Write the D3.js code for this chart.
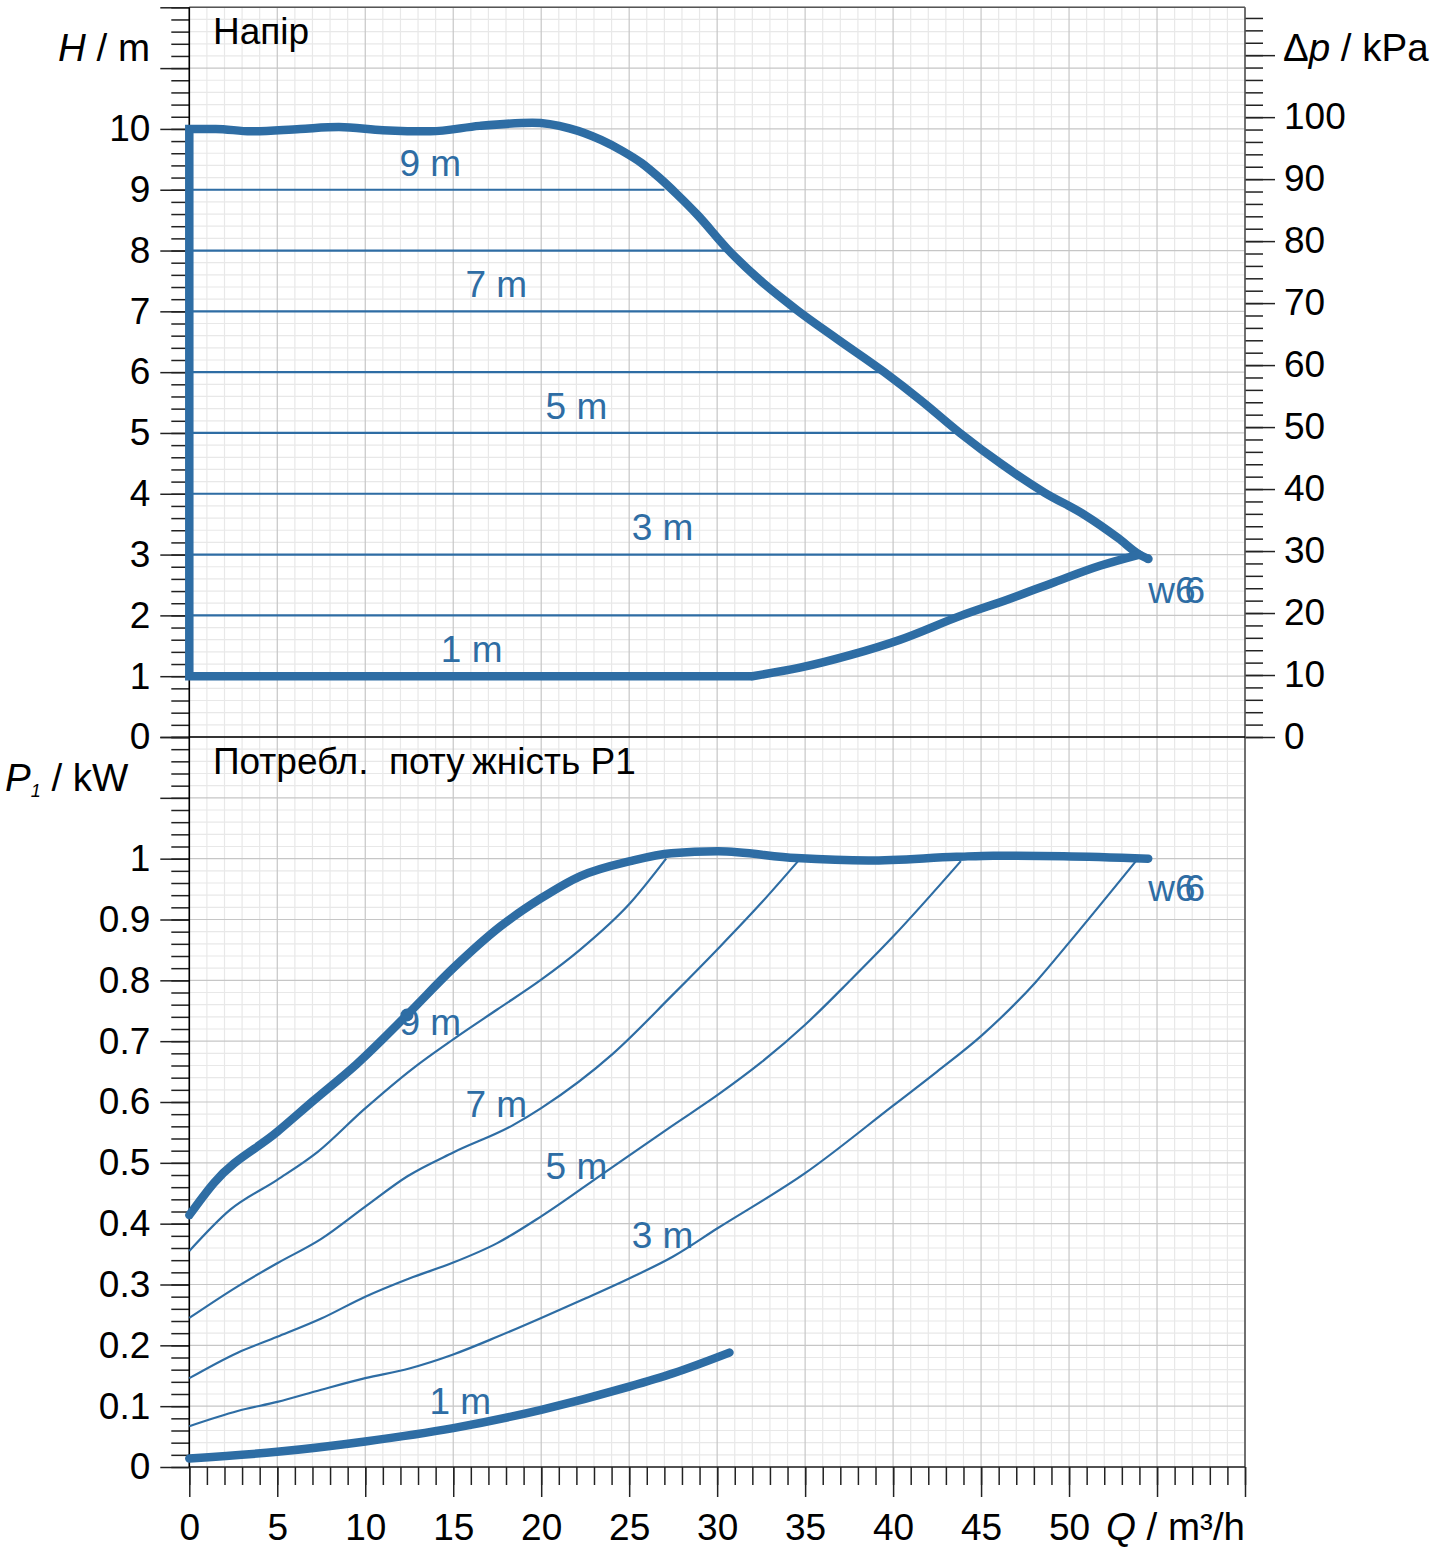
<!DOCTYPE html>
<html><head><meta charset="utf-8">
<script src="https://cdn.jsdelivr.net/npm/d3@7"></script>
<style>
html,body{margin:0;padding:0;background:#fff;}
svg{display:block;font-family:"Liberation Sans",Arial,Helvetica,sans-serif;}
</style></head><body>
<svg id="c" width="1437" height="1553"></svg>
<script>
// ---------- data ----------
const qMajorTicks = [0,5,10,15,20,25,30,35,40,45,50,55,60];
const qTickLabels = [0,5,10,15,20,25,30,35,40,45,50];
const hMajorTicks = [0,1,2,3,4,5,6,7,8,9,10,11,12];
const hTickLabels = [0,1,2,3,4,5,6,7,8,9,10];
const pMajorTicks = [0,0.1,0.2,0.3,0.4,0.5,0.6,0.7,0.8,0.9,1.0,1.1,1.2];
const pTickLabels = [0,0.1,0.2,0.3,0.4,0.5,0.6,0.7,0.8,0.9,1];
const kpaMajorTicks = [0,10,20,30,40,50,60,70,80,90,100,110];
const kpaTickLabels = [0,10,20,30,40,50,60,70,80,90,100];

// constant-head lines (m) and the flow where each meets the pump curve
const headLevels    = [2, 3, 4, 5, 6, 7, 8, 9];
const headLevelEndQ = [43.9, 53.6, 48.6, 43.8, 39.5, 34.5, 30.6, 27.0];

// H(Q) max curve [Q, H]
const headMax = [[0,10.0],[1.5,10.0],[3.5,9.96],[6.3,10.0],[8.5,10.03],[11,9.98],[13.7,9.96],
  [16.5,10.05],[19.5,10.1],[21.6,10.01],[23.4,9.82],[24.6,9.64],[25.7,9.44],[26.7,9.2],[27.7,8.93],
  [28.9,8.58],[30.6,8.02],[32.6,7.47],[34.5,7.03],[36.9,6.53],[39.5,6.0],[41.6,5.53],[43.8,5.0],
  [46.2,4.48],[48.6,4.02],[50.9,3.65],[52.8,3.27],[54.0,3.0],[54.5,2.93]];
// H(Q) min curve (1 m setting) [Q, H]
const headMinCorner = [[32.0,1.0],[0,1.0],[0,10.0]];
const headMin = [[32.0,1.0],[34.7,1.14],[37.6,1.35],[40.4,1.6],[43.9,2.0],[46.6,2.27],[49.2,2.55],
  [51.8,2.82],[54.0,3.0]];

// P1(Q) curves [Q, kW]
const powerMax = [[0,0.414],[1.4,0.467],[5,0.551],[7.05,0.602],[9.5,0.662],[12.37,0.743],[15,0.82],
  [17.7,0.889],[20,0.935],[22.2,0.971],[25.06,0.996],[27.4,1.009],[30.05,1.012],[34.5,1.001],
  [38.6,0.997],[43.6,1.003],[45.7,1.005],[49.7,1.004],[54.5,1.0]];
const powerMin = [[0,0.014],[5,0.025],[10,0.042],[15,0.064],[20,0.094],[25,0.132],[27.5,0.154],[30.7,0.188]];
const power9m = [[0,0.355],[2.33,0.423],[5,0.472],[7.3,0.518],[9.9,0.587],[12.7,0.655],[15,0.703],
  [17.5,0.752],[20,0.801],[22.2,0.850],[25.06,0.927],[27.1,1.0]];
const power7m = [[0,0.245],[2.75,0.297],[5,0.335],[7.5,0.375],[10,0.428],[12.4,0.478],[15,0.517],
  [18.4,0.562],[20,0.590],[24.1,0.680],[27.4,0.774],[30.05,0.852],[32.5,0.927],[34.6,0.996]];
const power5m = [[0,0.146],[2.75,0.188],[5,0.214],[7.5,0.244],[10,0.280],[12.5,0.310],[15,0.336],
  [17.5,0.368],[20,0.412],[23.6,0.484],[27.4,0.560],[30.05,0.612],[32.5,0.665],[35,0.727],
  [37.6,0.801],[40,0.872],[43.85,0.996]];
const power3m = [[0,0.067],[2.75,0.092],[5,0.107],[7.5,0.127],[10,0.146],[12.5,0.162],[15,0.185],
  [17.5,0.214],[20,0.245],[22.5,0.277],[25,0.310],[27.5,0.346],[30,0.392],[35,0.483],[40,0.594],
  [42.5,0.650],[45.06,0.710],[48.1,0.797],[50,0.862],[53.8,0.996]];
const powerMarker = [12.37, 0.743];

// curve labels [text, Q, value]
const headLabels  = [["9 m",13.7,9.23],["7 m",17.45,7.24],["5 m",22.0,5.23],["3 m",26.9,3.24],["1 m",16.05,1.23]];
const powerLabels = [["9 m",13.7,0.710],["7 m",17.45,0.575],["5 m",22.0,0.473],["3 m",26.9,0.360],["1 m",15.4,0.087]];
const seriesName = "w6";
const headNamePos = [54.5, 2.2];
const powerNamePos = [54.5, 0.93];

// ---------- drawing ----------
const BLUE = "#2e6da4";
const FS = 37, FU = 38.5;
const L = 189.3, R = 1245, T = 7.3, M = 737, B = 1467;
const x = d3.scaleLinear([0,60],[L,R]);
const yH = d3.scaleLinear([0,12],[M,T]);
const yK = d3.scaleLinear([0,12*9.81],[M,T]);
const yP = d3.scaleLinear([0,1.2],[B,M]);

const svg = d3.select("#c");
const step = (a,b,s) => d3.range(0, Math.round((b-a)/s)+1).map(i => +(a+i*s).toFixed(4));

// grid
const g = svg.append("g");
const qMinor = step(0,60,1);
const hMinor = step(0,12,0.2);
const pMinor = step(0,1.2,0.02);
const kMinor = step(0,116,2);
function vlines(vals, y0, y1, col){
  g.append("g").selectAll("line").data(vals).join("line")
    .attr("x1", d=>x(d)).attr("x2", d=>x(d)).attr("y1", y0).attr("y2", y1)
    .attr("stroke", col).attr("stroke-width", 1.2);
}
function hlines(vals, sc, col){
  g.append("g").selectAll("line").data(vals).join("line")
    .attr("x1", L).attr("x2", R).attr("y1", d=>sc(d)).attr("y2", d=>sc(d))
    .attr("stroke", col).attr("stroke-width", 1.2);
}
const MINC = "#e8e8e8", MAJC = "#c6c6c6";
vlines(qMinor.filter(d=>d%5!==0), T, B, MINC);
hlines(hMinor.filter(d=>Math.abs(d-Math.round(d))>1e-6), yH, MINC);
hlines(pMinor.filter(d=>Math.abs(d*10-Math.round(d*10))>1e-6), yP, MINC);
vlines(qMajorTicks, T, B, MAJC);
hlines(hMajorTicks, yH, MAJC);
hlines(pMajorTicks, yP, MAJC);

// axes
function styleAxis(sel){
  sel.select(".domain").remove();
  sel.selectAll(".tick line").attr("stroke","#222").attr("stroke-width",1.5);
  sel.selectAll(".tick text").attr("fill","#000").style("font-size",FS+"px")
     .style("font-family",'"Liberation Sans",Arial,sans-serif');
}
const fmtP = d => (+d.toFixed(1)).toString();
svg.append("g").attr("transform",`translate(${L},0)`)
  .call(d3.axisLeft(yH).tickValues(hMinor).tickSize(18).tickFormat("")).call(styleAxis);
svg.append("g").attr("transform",`translate(${L},0)`)
  .call(d3.axisLeft(yH).tickValues(hMajorTicks).tickSize(29).tickPadding(10)
    .tickFormat(d => hTickLabels.includes(d) ? d : "")).call(styleAxis);
svg.append("g").attr("transform",`translate(${L},0)`)
  .call(d3.axisLeft(yP).tickValues(pMinor).tickSize(18).tickFormat("")).call(styleAxis);
svg.append("g").attr("transform",`translate(${L},0)`)
  .call(d3.axisLeft(yP).tickValues(pMajorTicks).tickSize(29).tickPadding(10)
    .tickFormat(d => pTickLabels.some(v=>Math.abs(v-d)<1e-6) ? fmtP(d) : "")).call(styleAxis);
svg.append("g").attr("transform",`translate(${R},0)`)
  .call(d3.axisRight(yK).tickValues(kMinor).tickSize(18).tickFormat("")).call(styleAxis);
svg.append("g").attr("transform",`translate(${R},0)`)
  .call(d3.axisRight(yK).tickValues(kpaMajorTicks).tickSize(30).tickPadding(9)
    .tickFormat(d => kpaTickLabels.includes(d) ? d : "")).call(styleAxis);
svg.append("g").attr("transform",`translate(0,${B})`)
  .call(d3.axisBottom(x).tickValues(qMinor).tickSize(18).tickFormat("")).call(styleAxis);
svg.append("g").attr("transform",`translate(0,${B})`)
  .call(d3.axisBottom(x).tickValues(qMajorTicks).tickSize(30).tickPadding(17)
    .tickFormat(d => qTickLabels.includes(d) ? d : "")).call(styleAxis);

// frame
const fr = svg.append("g").attr("stroke","#222").attr("stroke-width",1.6);
fr.append("line").attr("x1",L).attr("x2",R).attr("y1",T).attr("y2",T).attr("stroke","#555");
fr.append("line").attr("x1",R).attr("x2",R).attr("y1",T).attr("y2",B).attr("stroke","#555");
fr.append("line").attr("x1",L).attr("x2",R).attr("y1",M).attr("y2",M).attr("stroke","#000");
fr.append("line").attr("x1",L).attr("x2",R).attr("y1",B).attr("y2",B);
fr.append("line").attr("x1",L).attr("x2",L).attr("y1",T).attr("y2",B).attr("stroke","#000");

// head panel lines
const cg = svg.append("g");
cg.selectAll("line.h").data(headLevels).join("line")
  .attr("x1", x(0)).attr("x2", (d,i)=>x(headLevelEndQ[i]))
  .attr("y1", d=>yH(d)).attr("y2", d=>yH(d))
  .attr("stroke", BLUE).attr("stroke-width", 2.2);

const lineH = d3.line().x(d=>x(d[0])).y(d=>yH(d[1])).curve(d3.curveMonotoneX);
const lineHlin = d3.line().x(d=>x(d[0])).y(d=>yH(d[1]));
const lineP = d3.line().x(d=>x(d[0])).y(d=>yP(d[1])).curve(d3.curveMonotoneX);

const thick = {stroke: BLUE, "stroke-width": 8.5, fill: "none", "stroke-linecap":"round", "stroke-linejoin":"miter"};
function applyAttrs(sel, o){ for (const k in o) sel.attr(k, o[k]); return sel; }

applyAttrs(cg.append("path").attr("d", lineHlin(headMinCorner) + lineH(headMax).replace(/^M/,"L")), thick)
  .attr("stroke-linecap","butt");
applyAttrs(cg.append("path").attr("d", lineH(headMin)), thick);
cg.append("circle").attr("cx", x(headMax[headMax.length-1][0])).attr("cy", yH(headMax[headMax.length-1][1]))
  .attr("r", 4.5).attr("fill", BLUE);

// power panel
[power9m, power7m, power5m, power3m].forEach(s => {
  cg.append("path").attr("d", lineP(s)).attr("fill","none").attr("stroke",BLUE).attr("stroke-width",2.2);
});
applyAttrs(cg.append("path").attr("d", lineP(powerMax)), thick);
applyAttrs(cg.append("path").attr("d", lineP(powerMin)), thick);
cg.append("circle").attr("cx", x(powerMarker[0])).attr("cy", yP(powerMarker[1])).attr("r", 6.5).attr("fill", BLUE);

// curve labels
const lg = svg.append("g").attr("fill", BLUE).style("font-size", FS+"px");
lg.selectAll("text.hl").data(headLabels).join("text")
  .attr("x", d=>x(d[1])).attr("y", d=>yH(d[2])).attr("text-anchor","middle").text(d=>d[0]);
lg.selectAll("text.pl").data(powerLabels).join("text")
  .attr("x", d=>x(d[1])).attr("y", d=>yP(d[2])).attr("text-anchor","middle").text(d=>d[0]);
// series name: the source prints its final digit twice, slightly offset — drawn as one text node
[[x(headNamePos[0]), yH(headNamePos[1])],[x(powerNamePos[0]), yP(powerNamePos[1])]].forEach(p => {
  lg.append("text").attr("x", p[0]).attr("y", p[1]).attr("dx", "0 0 -11")
    .text(seriesName + seriesName.slice(1));
});

// titles and units
const tg = svg.append("g").attr("fill","#000").style("font-size", FS+"px");
const tx = (xx, yy) => tg.append("text").attr("x", xx).attr("y", yy).attr("xml:space","preserve");
tx(213,44).text("Напір");
tx(213,774).text("Потребл.  поту\u2009жність P1");
const hu = tx(150,61).attr("text-anchor","end").style("font-size", FU+"px");
hu.append("tspan").attr("font-style","italic").text("H");
hu.append("tspan").text(" / m");
const ku = tx(1283,61).style("font-size", FU+"px");
ku.append("tspan").text("Δ");
ku.append("tspan").attr("font-style","italic").text("p");
ku.append("tspan").text(" / kPa");
const pu = tx(5,791).style("font-size", FU+"px");
pu.append("tspan").attr("font-style","italic").text("P");
pu.append("tspan").attr("font-style","italic").attr("font-size","18px").attr("dy",6).text("1");
pu.append("tspan").attr("dy",-6).text(" / kW");
const qu = tx(1245,1540).attr("text-anchor","end").style("font-size", FU+"px");
qu.append("tspan").attr("font-style","italic").text("Q");
qu.append("tspan").text(" / m³/h");
</script>
</body></html>
